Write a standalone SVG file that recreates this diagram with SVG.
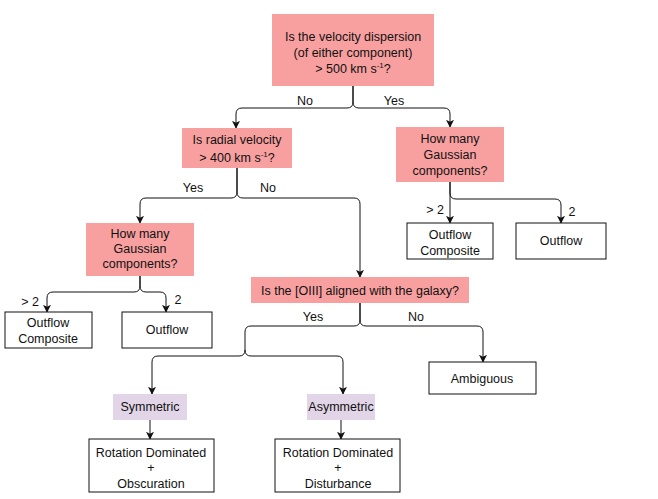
<svg xmlns="http://www.w3.org/2000/svg" width="658" height="499" viewBox="0 0 658 499">
<defs>
<marker id="arr" viewBox="0 0 10 10" refX="9" refY="5" markerWidth="8" markerHeight="8" markerUnits="userSpaceOnUse" orient="auto">
<path d="M0,0 L10,5 L0,10 L2.5,5 Z" fill="#111"/>
</marker>
<style>
.q{fill:#F8A0A0;stroke:none}
.s{fill:#E1D5E7;stroke:none}
.r{fill:#fff;stroke:#111;stroke-width:1}
.t{font-family:"Liberation Sans",Arial,sans-serif;font-size:12.5px;fill:#111;text-anchor:middle}
.l{font-family:"Liberation Sans",Arial,sans-serif;font-size:12.5px;fill:#111;text-anchor:middle}
.e{fill:none;stroke:#111;stroke-width:1;marker-end:url(#arr)}
.sup{font-size:8px}
</style>
</defs>
<rect width="658" height="499" fill="#fff"/>
<g id="connectors">
<path class="e" d="M353,86 V102 Q353,108 347,108 H242 Q236,108 236,114 V128"/>
<path class="e" d="M353,86 V102 Q353,108 359,108 H444 Q450,108 450,114 V127"/>
<path class="e" d="M237,168 V192 Q237,198 231,198 H146 Q140,198 140,204 V223"/>
<path class="e" d="M237,168 V192 Q237,198 243,198 H354 Q360,198 360,204 V277"/>
<path class="e" d="M450,182 V223"/>
<path class="e" d="M450,182 V193 Q450,199 456,199 H555 Q561,199 561,205 V223"/>
<path class="e" d="M140,276 V286 Q140,292 134,292 H53 Q47,292 47,298 V312"/>
<path class="e" d="M140,276 V286 Q140,292 146,292 H160 Q166,292 166,298 V312"/>
<path class="e" d="M360,303 V320 Q360,326 354,326 H251 Q245,326 245,332 V350 Q245,356 239,356 H158 Q152,356 152,362 V394"/>
<path class="e" d="M245,350 Q245,356 251,356 H337 Q343,356 343,362 V394"/>
<path class="e" d="M360,303 V320 Q360,326 366,326 H477 Q483,326 483,332 V362"/>
<path class="e" d="M150,420 V439"/>
<path class="e" d="M341,420 V439"/>
<text class="l" x="305" y="105">No</text>
<text class="l" x="394" y="105">Yes</text>
<text class="l" x="193" y="192">Yes</text>
<text class="l" x="268" y="192">No</text>
<text class="l" x="435" y="214">&gt; 2</text>
<text class="l" x="572" y="216">2</text>
<text class="l" x="30" y="306">&gt; 2</text>
<text class="l" x="178" y="304">2</text>
<text class="l" x="313" y="321">Yes</text>
<text class="l" x="416" y="321">No</text>
</g>
<g id="n1">
<rect class="q" x="272" y="14" width="162" height="72"/>
<text class="t" x="353" y="41">Is the velocity dispersion</text>
<text class="t" x="353" y="57">(of either component)</text>
<text class="t" x="353" y="73">&gt; 500 km s<tspan class="sup" dy="-5">-1</tspan><tspan dy="5">?</tspan></text>
</g>
<g id="n2">
<rect class="q" x="182" y="128" width="110" height="40"/>
<text class="t" x="237" y="144">Is radial velocity</text>
<text class="t" x="237" y="162">&gt; 400 km s<tspan class="sup" dy="-5">-1</tspan><tspan dy="5">?</tspan></text>
</g>
<g id="n3">
<rect class="q" x="396" y="127" width="108" height="55"/>
<text class="t" x="450" y="143">How many</text>
<text class="t" x="450" y="159">Gaussian</text>
<text class="t" x="450" y="175">components?</text>
</g>
<g id="n4">
<rect class="r" x="407" y="223" width="86" height="36"/>
<text class="t" x="450" y="239">Outflow</text>
<text class="t" x="450" y="255">Composite</text>
</g>
<g id="n5">
<rect class="r" x="516" y="223" width="90" height="36"/>
<text class="t" x="561" y="245">Outflow</text>
</g>
<g id="n6">
<rect class="q" x="86" y="223" width="108" height="53"/>
<text class="t" x="140" y="238">How many</text>
<text class="t" x="140" y="253">Gaussian</text>
<text class="t" x="140" y="268">components?</text>
</g>
<g id="n7">
<rect class="r" x="5" y="312" width="87" height="36"/>
<text class="t" x="48" y="327">Outflow</text>
<text class="t" x="48" y="343">Composite</text>
</g>
<g id="n8">
<rect class="r" x="122" y="312" width="90" height="36"/>
<text class="t" x="167" y="334">Outflow</text>
</g>
<g id="n9">
<rect class="q" x="251" y="277" width="218" height="26"/>
<text class="t" x="360" y="295">Is the [OIII] aligned with the galaxy?</text>
</g>
<g id="n10">
<rect class="r" x="429" y="362" width="107" height="32"/>
<text class="t" x="482" y="383">Ambiguous</text>
</g>
<g id="n11">
<rect class="s" x="113" y="394" width="74" height="26"/>
<text class="t" x="150" y="411">Symmetric</text>
</g>
<g id="n12">
<rect class="s" x="307" y="394" width="68" height="26"/>
<text class="t" x="341" y="411">Asymmetric</text>
</g>
<g id="n13">
<rect class="r" x="89" y="439" width="125" height="53"/>
<text class="t" x="151" y="457">Rotation Dominated</text>
<text class="t" x="151" y="472">+</text>
<text class="t" x="151" y="488">Obscuration</text>
</g>
<g id="n14">
<rect class="r" x="275" y="439" width="125" height="53"/>
<text class="t" x="338" y="457">Rotation Dominated</text>
<text class="t" x="338" y="472">+</text>
<text class="t" x="338" y="488">Disturbance</text>
</g>
</svg>
